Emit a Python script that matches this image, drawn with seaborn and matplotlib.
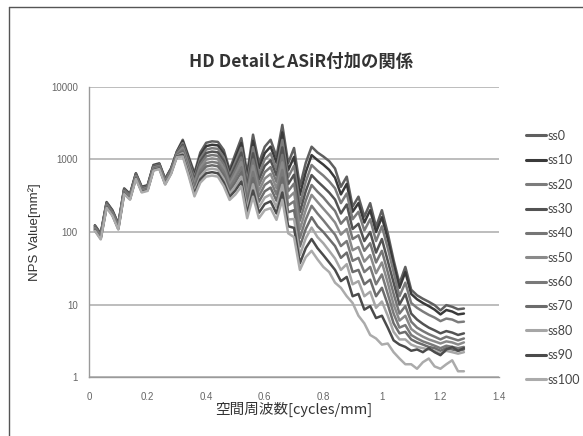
import numpy as np
import pandas as pd
import matplotlib
matplotlib.use('Agg')
import matplotlib.pyplot as plt
import seaborn as sns
from matplotlib.lines import Line2D
from matplotlib.ticker import NullLocator

# 空間周波数 0.02 ~ 1.28 cycles/mm
freq = np.round(np.arange(1, 65) * 0.02, 2)

ss0 = [124, 95, 259, 200, 130, 400, 335, 648, 421, 443, 842, 886, 540, 756, 1296,
       1870, 1100, 650, 1250, 1700, 1780, 1750, 1350, 720, 1200, 1970, 650, 2200, 890, 1500, 1870, 1100, 3000, 890,
       1440, 425, 900, 1500, 1250, 1100, 950, 750, 420, 580, 224, 307, 163,
       250, 118, 200, 96, 41, 19.5, 33, 16, 13.4, 12, 10.9, 9.8, 8.3, 9.8, 9.3, 8.6, 8.8]
ss10 = [122, 93, 254, 196, 127, 392, 329, 636, 413, 435, 827, 869, 530, 742, 1272,
        1790, 1035, 604, 1136, 1527, 1597, 1566, 1204, 655, 1055, 1690, 563, 1806, 747, 1225, 1505, 900, 2364, 712,
        1086, 324, 667, 1150, 980, 850, 720, 560, 330, 460, 190, 250, 135,
        200, 100, 160, 80, 36, 17, 28, 14, 11.8, 10.5, 9.5, 8.5, 7.3, 8.4, 8.0, 7.3, 7.5]
ss20 = [120, 92, 250, 192, 125, 385, 322, 624, 406, 426, 811, 853, 520, 728, 1248,
        1680, 974, 561, 1033, 1371, 1432, 1402, 1074, 595, 927, 1450, 487, 1483, 627, 1001, 1212, 736, 1863, 570,
        819, 247, 494, 840, 700, 600, 500, 400, 250, 340, 150, 190, 105,
        150, 75, 120, 60, 28, 13, 20, 10.5, 9, 8, 7.2, 6.6, 5.9, 6.4, 6.2, 5.7, 5.8]
ss30 = [117, 90, 245, 189, 122, 377, 316, 612, 398, 418, 796, 836, 510, 714, 1224,
        1590, 917, 521, 939, 1231, 1285, 1254, 958, 541, 815, 1244, 422, 1218, 526, 818, 976, 602, 1468, 456,
        617, 188, 366, 610, 500, 420, 350, 280, 180, 240, 110, 130, 75,
        100, 52, 80, 40, 20, 10, 14, 7.5, 6.2, 5.4, 4.8, 4.4, 4.0, 4.3, 4.1, 3.8, 4.0]
ss40 = [115, 88, 240, 185, 120, 370, 310, 600, 390, 410, 780, 820, 500, 700, 1200,
        1510, 863, 484, 854, 1106, 1152, 1123, 855, 492, 716, 1068, 365, 1000, 441, 668, 785, 492, 1157, 365,
        466, 143, 271, 445, 360, 300, 240, 195, 130, 160, 80, 90, 55,
        70, 38, 55, 28, 14, 7.5, 9.5, 5.8, 4.8, 4.3, 3.9, 3.6, 3.3, 3.6, 3.4, 3.2, 3.4]
ss50 = [113, 86, 235, 181, 118, 363, 304, 588, 382, 402, 764, 804, 490, 686, 1176,
        1430, 812, 450, 776, 993, 1034, 1005, 762, 447, 630, 916, 316, 821, 370, 546, 632, 403, 911, 292,
        351, 109, 201, 325, 260, 210, 170, 135, 92, 110, 56, 62, 39,
        48, 27, 38, 20, 10, 6, 7, 4.6, 4.0, 3.6, 3.3, 3.1, 2.9, 3.1, 3.0, 2.8, 3.0]
ss60 = [112, 85, 233, 179, 116, 359, 301, 582, 378, 398, 757, 795, 485, 679, 1164,
        1360, 764, 418, 705, 892, 927, 899, 680, 406, 553, 786, 274, 674, 311, 446, 509, 330, 718, 233,
        265, 83, 149, 230, 180, 145, 115, 92, 64, 75, 40, 44, 28,
        33, 19, 26, 14, 7.5, 4.8, 5.2, 3.8, 3.4, 3.1, 2.9, 2.7, 2.5, 2.7, 2.6, 2.5, 2.6]
ss70 = [109, 84, 228, 176, 114, 352, 295, 570, 371, 390, 741, 779, 475, 665, 1140,
        1290, 719, 388, 641, 801, 832, 805, 607, 369, 486, 674, 237, 553, 261, 364, 410, 270, 566, 187,
        200, 63, 110, 160, 120, 100, 80, 64, 44, 52, 28, 30, 19,
        22, 13, 17, 10, 5.5, 4.0, 4.2, 3.3, 3.0, 2.8, 2.6, 2.5, 2.3, 2.5, 2.4, 2.3, 2.4]
ss80 = [107, 82, 223, 172, 112, 344, 288, 558, 363, 381, 725, 763, 465, 651, 1116,
        1220, 677, 360, 583, 719, 746, 720, 541, 336, 427, 579, 206, 454, 219, 298, 330, 220, 446, 149,
        151, 48, 82, 115, 85, 70, 55, 43, 30, 36, 19, 21, 13,
        15, 9, 11, 7, 4.2, 3.3, 3.3, 2.8, 2.6, 2.5, 2.4, 2.3, 2.1, 2.3, 2.2, 2.1, 2.2]
ss90 = [106, 81, 221, 170, 110, 340, 285, 552, 359, 377, 718, 754, 460, 644, 1104,
        1160, 637, 335, 530, 646, 669, 645, 483, 305, 376, 496, 178, 373, 184, 243, 265, 180, 351, 120,
        114, 37, 60, 80, 60, 48, 38, 30, 21, 24, 13, 14, 8.5,
        9.5, 6.5, 7, 4.8, 3.2, 2.8, 2.6, 2.3, 2.4, 2.2, 2.5, 2.2, 2.0, 2.4, 2.6, 2.3, 2.5]
ss100 = [104, 79, 216, 167, 108, 333, 279, 540, 351, 369, 702, 738, 450, 630, 1080,
         1100, 600, 310, 480, 580, 600, 580, 430, 277, 330, 425, 155, 307, 155, 200, 213, 147, 277, 96,
         85, 30, 45, 55, 42, 33, 28, 20, 17, 13, 10.5, 7, 5.5,
         3.8, 3.4, 2.8, 2.9, 2.2, 1.8, 1.5, 1.5, 1.3, 1.6, 1.8, 1.4, 1.3, 1.5, 1.7, 1.2, 1.2]

series_names = ['ss0', 'ss10', 'ss20', 'ss30', 'ss40', 'ss50', 'ss60', 'ss70', 'ss80', 'ss90', 'ss100']
series_values = [ss0, ss10, ss20, ss30, ss40, ss50, ss60, ss70, ss80, ss90, ss100]
colors = ['#5f5f5f', '#3a3a3a', '#7c7c7c', '#535353', '#767676', '#8a8a8a',
          '#797979', '#6c6c6c', '#a6a6a6', '#4b4b4b', '#ababab']

y_ticks = [1, 10, 100, 1000, 10000]
y_tick_labels = ['1', '10', '100', '1000', '10000']
x_ticks = [0, 0.2, 0.4, 0.6, 0.8, 1.0, 1.2, 1.4]
x_tick_labels = ['0', '0.2', '0.4', '0.6', '0.8', '1', '1.2', '1.4']

df = pd.concat([pd.DataFrame({'freq': freq, 'nps': v, 'series': n})
                for n, v in zip(series_names, series_values)], ignore_index=True)

sns.set_style('white')
plt.rcParams['font.family'] = ['Noto Sans CJK JP', 'DejaVu Sans']

fig = plt.figure(figsize=(5.83, 4.36), dpi=100)
ax = fig.add_axes([0.1527, 0.1353, 0.7033, 0.6652])

sns.lineplot(data=df, x='freq', y='nps', hue='series', hue_order=series_names,
             palette=dict(zip(series_names, colors)), linewidth=1.8, ax=ax, legend=False)
for ln in ax.lines:
    ln.set_solid_joinstyle('round')

ax.set_yscale('log')
ax.set_xlim(0, 1.4)
ax.set_ylim(1, 10000)
tick_font = {'family': 'Liberation Sans', 'size': 7, 'color': '#666666'}
ax.set_yticks(y_ticks)
ax.set_yticklabels(y_tick_labels, fontdict=tick_font)
ax.yaxis.set_minor_locator(NullLocator())
ax.set_xticks(x_ticks)
ax.set_xticklabels(x_tick_labels, fontdict=tick_font)
ax.tick_params(axis='both', color='#9a9a9a', length=3, width=1, direction='out')
ax.tick_params(axis='x', pad=8)
ax.tick_params(axis='y', pad=5)
ax.grid(axis='y', color='#bdbdbd', linewidth=1.4)
ax.grid(axis='x', visible=False)
for s in ['top', 'right']:
    ax.spines[s].set_visible(False)
for s in ['left', 'bottom']:
    ax.spines[s].set_color('#9a9a9a')
    ax.spines[s].set_linewidth(1)

ax.set_xlabel('空間周波数[cycles/mm]', fontsize=10.5, color='#333333', va='center')
ax.xaxis.set_label_coords(0.5, -0.113)
ax.set_ylabel('NPS Value[mm²]', fontsize=9.5, color='#333333', va='center',
              family=['Liberation Sans', 'DejaVu Sans'])
ax.yaxis.set_label_coords(-0.132, 0.5)

fig.text(301 / 583, 1 - 62 / 436, 'HD DetailとASiR付加の関係', fontsize=12.5,
         fontweight='bold', ha='center', va='center', color='#333333')

handles = [Line2D([0], [0], color=c, linewidth=2.2) for c in colors]
leg = fig.legend(handles, series_names, loc='upper left', bbox_to_anchor=(0.883, 0.728),
                 frameon=False, handlelength=1.6, handletextpad=0.1,
                 labelspacing=0.99, labelcolor='#444444', prop={'family': 'Lato', 'size': 9})

# 外枠
fig.add_artist(Line2D([9 / 583, 9 / 583], [0, 1 - 7 / 436], color='#555555', linewidth=1))
fig.add_artist(Line2D([9 / 583, 1], [1 - 7 / 436, 1 - 7 / 436], color='#555555', linewidth=1))

fig.savefig('out.png', dpi=100)
